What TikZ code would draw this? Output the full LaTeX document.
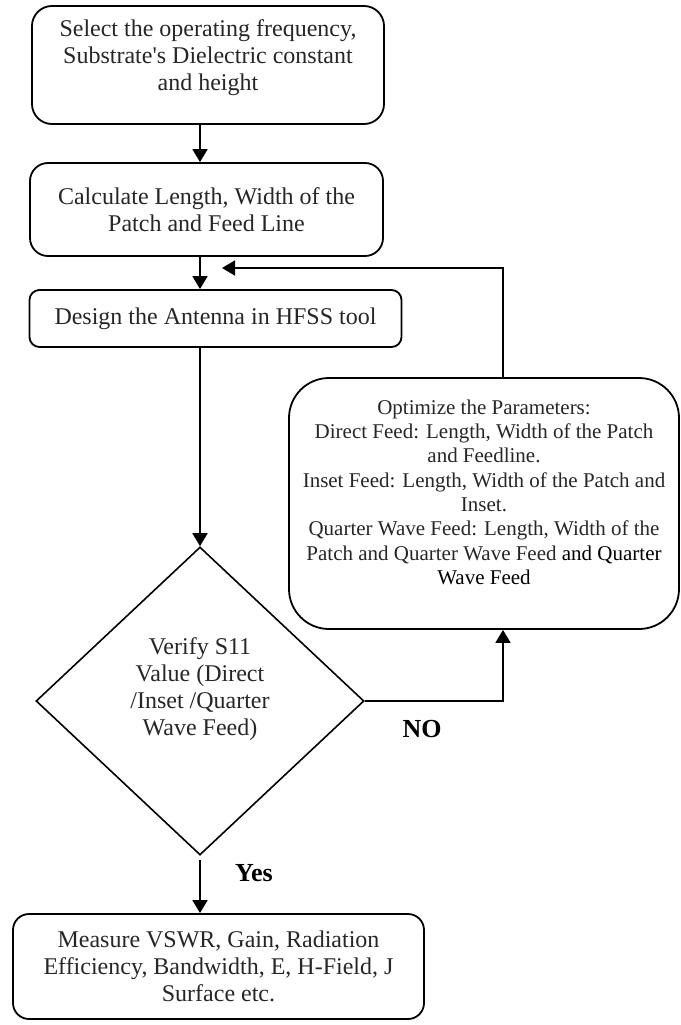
\documentclass[tikz,border=0pt]{standalone}
\usepackage{fontspec}
\setmainfont{Liberation Serif}
\usetikzlibrary{shapes.geometric,arrows.meta}

\begin{document}
\begin{tikzpicture}[x=1pt,y=-1pt,>={Triangle[length=13pt,width=15pt]},
  every node/.style={text=black!85,align=center,font=\fontsize{24}{27}\selectfont},
  box/.style={draw=black,line width=1.8pt,rounded corners=#1,inner sep=0pt},
  lbl/.style={text=black,font=\fontsize{26}{28}\selectfont\bfseries},
  flow/.style={->,line width=1.8pt}]
\useasboundingbox (0,0) rectangle (680,1025);

\node (sel) at (208,65) [box=20pt,minimum width=352pt,minimum height=118pt,text depth=19pt] {Select the operating frequency,\\ Substrate\textquotesingle s Dielectric constant\\ and height};
\node (calc) at (206.5,209.5) [box=18pt,minimum width=353pt,minimum height=93pt] {Calculate Length, Width of the\\ Patch and Feed Line};
\node (dsgn) at (215.5,318.5) [box=10pt,minimum width=372pt,minimum height=57pt] {Design the Antenna in HFSS tool};
\node (ver) at (200,701) [diamond,draw=black,line width=1.6pt,minimum width=328pt,minimum height=308pt,inner sep=0pt,text depth=28pt] {Verify S11\\ Value (Direct\\ /Inset /Quarter\\ Wave Feed)};
\node (opt) at (484,503.5) [box=40pt,minimum width=390pt,minimum height=251pt,font=\fontsize{21}{24.3}\selectfont,text depth=23pt] {Optimize the Parameters:\\ Direct Feed: Length, Width of the Patch\\ and Feedline.\\ Inset Feed: Length, Width of the Patch and\\ Inset.\\ Quarter Wave Feed: Length, Width of the\\ Patch and Quarter Wave Feed {\color{black}and Quarter}\\ {\color{black}Wave Feed}};
\node (meas) at (218.5,966.5) [box=16pt,minimum width=411pt,minimum height=105pt] {Measure VSWR, Gain, Radiation\\ Efficiency, Bandwidth, E, H-Field, J\\ Surface etc.};

\node (no) at (422,729) [lbl] {NO};
\node (yes) at (254,873) [lbl] {Yes};
\coordinate (back) at (222,268);

\draw[flow] (sel.south -| ver.north) -- (calc.north -| ver.north);
\draw[flow] (calc.south -| ver.north) -- (dsgn.north -| ver.north);
\draw[flow] (dsgn.south -| ver.north) -- (ver.north);
\draw[flow] ([xshift=19pt]opt.north) |- (back);
\draw[flow] (ver.east) -| ([xshift=19pt]opt.south);
\draw[flow] ([yshift=-4pt]ver.south) -- (meas.north -| ver.south);
\end{tikzpicture}
\end{document}
